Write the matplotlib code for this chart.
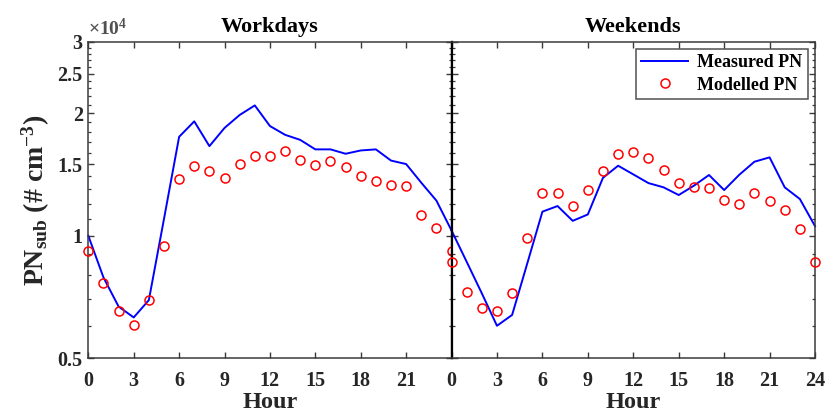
#!/usr/bin/env python3

import numpy as np
import matplotlib
matplotlib.use('Agg')
import matplotlib.pyplot as plt
from matplotlib.ticker import FixedLocator, NullFormatter

# hourly particle numbers, in units of 1e4 # cm^-3
hours = list(range(25))

work_measured = [1.00, 0.79, 0.67, 0.63, 0.695, 1.10, 1.75, 1.91, 1.66, 1.84,
                 1.98, 2.09, 1.86, 1.77, 1.72, 1.63, 1.63, 1.59, 1.62, 1.63,
                 1.53, 1.50, 1.35, 1.22, 1.03]
work_modelled = [0.919, 0.765, 0.653, 0.604, 0.694, 0.945, 1.376, 1.484, 1.442, 1.388,
                 1.50, 1.57, 1.57, 1.618, 1.535, 1.495, 1.53, 1.475, 1.404, 1.363,
                 1.33, 1.325, 1.124, 1.043, 0.919]

wend_measured = [1.03, 0.863, 0.722, 0.601, 0.639, 0.855, 1.146, 1.183, 1.088, 1.128,
                 1.388, 1.486, 1.415, 1.347, 1.315, 1.259, 1.327, 1.41, 1.295, 1.412,
                 1.52, 1.558, 1.315, 1.231, 1.056]
wend_modelled = [0.863, 0.729, 0.665, 0.653, 0.722, 0.987, 1.273, 1.273, 1.181, 1.295,
                 1.445, 1.588, 1.603, 1.554, 1.45, 1.35, 1.315, 1.313, 1.226, 1.198,
                 1.271, 1.217, 1.157, 1.037, 0.863]

ytick_vals = [0.5, 1, 1.5, 2, 2.5, 3]
ytick_labels = ['0.5', '1', '1.5', '2', '2.5', '3']
xtick_vals = [0, 3, 6, 9, 12, 15, 18, 21, 24]

plt.rcParams['font.family'] = ['Liberation Serif', 'DejaVu Serif']
plt.rcParams['font.weight'] = 'bold'
plt.rcParams['axes.labelweight'] = 'bold'
plt.rcParams['mathtext.fontset'] = 'custom'
plt.rcParams['mathtext.rm'] = 'Liberation Serif'
plt.rcParams['mathtext.bf'] = 'Liberation Serif:bold'
plt.rcParams['mathtext.default'] = 'bf'

spine_col = '#3a3a3a'


def style_axes(ax, show_ylabels, xlabels):
    ax.set_yscale('log')
    ax.set_ylim(0.5, 3)
    ax.set_xlim(0, 24)
    ax.yaxis.set_major_locator(FixedLocator(ytick_vals))
    ax.yaxis.set_minor_locator(FixedLocator(np.round(np.arange(0.5, 3.01, 0.1), 2)))
    ax.yaxis.set_minor_formatter(NullFormatter())
    if show_ylabels:
        ax.set_yticklabels(ytick_labels)
    else:
        ax.set_yticklabels([])
    ax.set_xticks(xtick_vals)
    ax.set_xticklabels(xlabels)
    ax.tick_params(which='both', direction='in', top=True, right=True,
                   colors=spine_col, labelcolor='#262626', labelsize=14.5)
    ax.tick_params(which='major', length=4, width=1)
    ax.tick_params(which='minor', length=2.5, width=0.9)
    ax.tick_params(axis='x', pad=9)
    ax.tick_params(axis='y', pad=4)
    for s in ax.spines.values():
        s.set_color(spine_col)
        s.set_linewidth(1.1)
    ax.set_xlabel('Hour', fontsize=17.5, fontweight='bold', labelpad=1, color='#262626')


fig = plt.figure(figsize=(8.27, 4.16), dpi=100)
ax1 = fig.add_axes([0.1068, 0.1387, 0.4392, 0.7615])
ax2 = fig.add_axes([0.5460, 0.1387, 0.4395, 0.7615])

ax1.plot(hours, work_measured, color='#0000ff', lw=1.4, label='Measured PN', clip_on=False)
ax1.plot(hours, work_modelled, 'o', mfc='none', mec='#ff0000', ms=6.5, mew=1.1,
         label='Modelled PN', clip_on=False, zorder=5)
ax2.plot(hours, wend_measured, color='#0000ff', lw=1.4, label='Measured PN', clip_on=False)
ax2.plot(hours, wend_modelled, 'o', mfc='none', mec='#ff0000', ms=6.5, mew=1.1,
         label='Modelled PN', clip_on=False, zorder=5)

style_axes(ax1, True, ['0', '3', '6', '9', '12', '15', '18', '21', ''])
style_axes(ax2, False, ['0', '3', '6', '9', '12', '15', '18', '21', '24'])

# the shared border between the two panels is drawn heavier
ax1.spines['right'].set_color('black')
ax1.spines['right'].set_linewidth(1.6)
ax2.spines['left'].set_color('black')
ax2.spines['left'].set_linewidth(1.6)

ax1.set_title('Workdays', fontsize=16, fontweight='bold', pad=7)
ax2.set_title('Weekends', fontsize=16, fontweight='bold', pad=7)
ax1.set_ylabel(r'PN$_{sub}$ (# cm$^{-3}$)', fontsize=20, fontweight='bold',
               labelpad=4, color='#262626')
ax1.text(0.0, 1.008, r'$\mathrm{\times10^{4}}$', transform=ax1.transAxes,
         fontsize=14, color='#505050', fontweight='normal', va='bottom', ha='left')

leg = ax2.legend(loc='upper right', fontsize=13, frameon=True, fancybox=False,
                 borderaxespad=0.4, handlelength=2.6, handletextpad=0.5,
                 borderpad=0.3, labelspacing=0.3)
leg.get_frame().set_edgecolor('#262626')
leg.get_frame().set_linewidth(1.1)
for t in leg.get_texts():
    t.set_fontweight('bold')

fig.savefig('out.png', dpi=100)
